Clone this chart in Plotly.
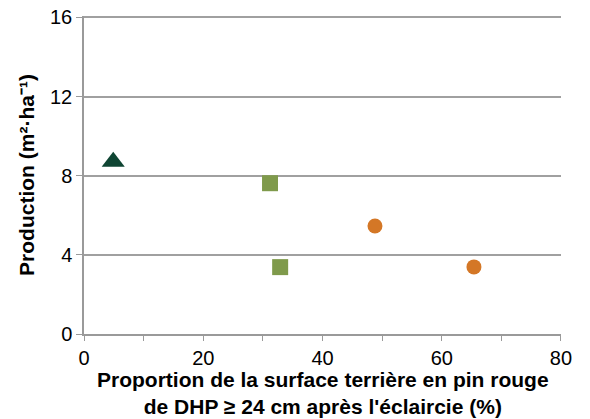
import plotly.graph_objects as go

tri_x = [4.9]
tri_y = [8.7]
sq_x = [31.2, 32.9]
sq_y = [7.62, 3.38]
circ_x = [48.8, 65.4]
circ_y = [5.46, 3.39]

x_ticks = [0, 20, 40, 60, 80]
y_ticks = [0, 4, 8, 12, 16]
x_title = "<b>Proportion de la surface terrière en pin rouge<br>de DHP ≥ 24 cm après l'éclaircie (%)</b>"
y_title = "<b>Production (m²·ha⁻¹)</b>"

fig = go.Figure()
fig.add_trace(go.Scatter(x=tri_x, y=tri_y, mode="markers",
                         marker=dict(symbol="triangle-up", size=20, color="#0f4533")))
fig.add_trace(go.Scatter(x=sq_x, y=sq_y, mode="markers",
                         marker=dict(symbol="square", size=16, color="#7f9a4b")))
fig.add_trace(go.Scatter(x=circ_x, y=circ_y, mode="markers",
                         marker=dict(symbol="circle", size=15, color="#d47726")))

font = "Liberation Sans, Arial, sans-serif"
fig.update_layout(
    width=590, height=419,
    margin=dict(l=84, r=29, t=16, b=85),
    paper_bgcolor="white", plot_bgcolor="white",
    showlegend=False,
    font=dict(family=font, color="black", size=20),
    xaxis=dict(range=[0, 80.001], tickvals=x_ticks, showgrid=False, zeroline=False,
               automargin=False,
               showline=True, linecolor="#9a9a9a", linewidth=1.5,
               ticks="outside", ticklen=5, tickcolor="#9a9a9a",
               minor=dict(dtick=10, ticks="outside", ticklen=5, tickcolor="#9a9a9a"),
               tickfont=dict(size=20)),
    yaxis=dict(range=[0, 16.07], tickvals=y_ticks, showgrid=True, gridcolor="#a0a0a0", gridwidth=1.5,
               automargin=False,
               zeroline=False, showline=True, linecolor="#9a9a9a", linewidth=1.5,
               ticks="outside", ticklen=6, tickcolor="#9a9a9a",
               tickfont=dict(size=20),
               title=dict(text=y_title, font=dict(size=21), standoff=10)),
    annotations=[dict(text=x_title, xref="paper", yref="paper", x=0.5, y=0,
                      xanchor="center", yanchor="top", yshift=-33, borderpad=0,
                      showarrow=False,
                      font=dict(size=21, family=font, color="black"))],
)
fig.write_html("out.html", config={"displayModeBar": False},
               post_script="document.body.style.margin='0';")
